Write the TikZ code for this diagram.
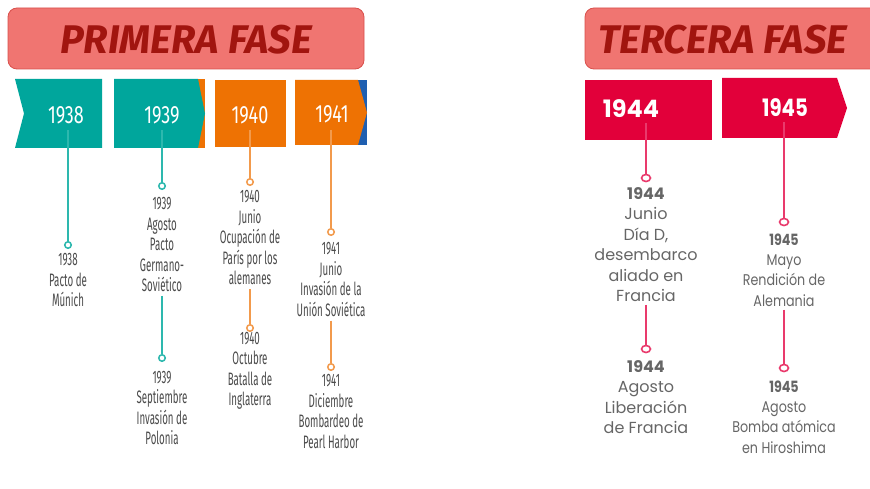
\documentclass[tikz,border=0pt]{standalone}
\usepackage{fontspec}
\setmainfont{Fira Sans}
\newfontfamily\condf[FakeStretch=0.54]{Fira Sans}
\newfontfamily\yearf[FakeStretch=0.72]{Fira Sans}
\newfontfamily\popf{Poppins}
\newfontfamily\popcond[FakeStretch=0.82]{Poppins}
\usetikzlibrary{shapes.geometric}
\definecolor{banfill}{HTML}{F07571}
\definecolor{bandraw}{HTML}{D9504C}
\definecolor{bantext}{HTML}{A1150F}
\definecolor{tealc}{HTML}{00A69C}
\definecolor{teall}{HTML}{2DB8AE}
\definecolor{orangec}{HTML}{EE7203}
\definecolor{orangel}{HTML}{F29A4C}
\definecolor{bluec}{HTML}{1F5FB0}
\definecolor{crimc}{HTML}{E2003A}
\definecolor{pinkl}{HTML}{E93A6C}
\definecolor{txtl}{HTML}{4A4A4A}
\definecolor{txtr}{HTML}{666666}
\tikzset{
  banner/.style={draw=bandraw, line width=0.8pt, fill=banfill, rounded corners=9pt},
  bantitle/.style={text=bantext, font=\fontsize{40}{40}\selectfont\bfseries\itshape, inner sep=0pt},
  yearL/.style={text=white, font=\yearf\fontsize{25}{25}\selectfont, inner sep=0pt},
  yearR/.style={text=white, font=\popf\fontsize{24}{24}\selectfont\bfseries, inner sep=0pt},
  yearRc/.style={text=white, font=\popcond\fontsize{24}{24}\selectfont\bfseries, inner sep=0pt},
  evL/.style={text=txtl, align=center, inner sep=0pt, font=\condf\fontsize{18}{20.5}\selectfont},
  evR/.style={text=txtr, align=center, inner sep=0pt, font=\popf\fontsize{16}{20.5}\selectfont},
  evRc/.style={text=txtr, align=center, inner sep=0pt, font=\popcond\fontsize{15.5}{20.3}\selectfont},
  dotL/.style={circle, draw=#1, line width=1.5pt, fill=white, inner sep=0pt, minimum size=6.5pt},
  dotR/.style={ellipse, draw=#1, line width=1.6pt, fill=white, inner sep=0pt, minimum width=9pt, minimum height=7pt},
  conn/.style={draw=#1, line width=1.6pt},
}
\begin{document}
\begin{tikzpicture}[x=1pt,y=-1pt]
\useasboundingbox (0,0) rectangle (870,489);
\fill[white] (0,0) rectangle (870,489);
\clip (0,0) rectangle (870,489);

% banners
\path[banner] (8,8) rectangle (364,69);
\node[bantitle] (ban1) at (186,40) {PRIMERA FASE};
\path[banner] (585,8) rectangle (890,69);
\node[bantitle, anchor=west] (ban3) at (598,40) {TERCERA FASE};

% year boxes, left
\fill[tealc] (15,79) -- (102,79) -- (102,148) -- (15,148) -- (24,113.5) -- cycle;
\fill[orangec] (198,79) rectangle (205,148);
\fill[tealc] (114,79) -- (198,79) -- (205,113.5) -- (198,148) -- (114,148) -- cycle;
\fill[orangec] (215,80) rectangle (286,147);
\fill[bluec] (358,80) rectangle (367,145);
\fill[orangec] (295,80) -- (358,80) -- (367,112.5) -- (358,145) -- (295,145) -- cycle;
% year boxes, right
\fill[crimc] (585,80) rectangle (712,140);
\fill[crimc] (722,78) -- (837,78) -- (847,108) -- (837,138) -- (722,138) -- cycle;

\node[yearL] (y38) at (66,115) {1938};
\node[yearL] (y39) at (162,115) {1939};
\node[yearL] (y40) at (250,115) {1940};
\node[yearL] (y41) at (332,114) {1941};
\node[yearR] (y44) at (631,109) {1944};
\node[yearRc] (y45) at (785,108) {1945};

% start points of the connectors
\coordinate (s38) at (68,130);
\coordinate (s39) at (162,130);
\coordinate (s40) at (250,130);
\coordinate (s41) at (331,130);
\coordinate (s44) at (646,123);
\coordinate (s45) at (784,122);

% dots
\node[dotL=teall] (c38) at (68,245) {};
\node[dotL=teall] (c39a) at (162,186) {};
\node[dotL=teall] (c39b) at (162,358) {};
\node[dotL=orangel] (c40a) at (250,182) {};
\node[dotL=orangel] (c40b) at (250,328) {};
\node[dotL=orangel] (c41a) at (331,232) {};
\node[dotL=orangel] (c41b) at (331,367) {};
\node[dotR=pinkl] (c44a) at (646,178) {};
\node[dotR=pinkl] (c44b) at (646,349) {};
\node[dotR=pinkl] (c45a) at (784,222) {};
\node[dotR=pinkl] (c45b) at (784,368) {};

% event texts
\node[evL] (t38) at (68,280) {1938\\Pacto de\\Múnich};
\node[evL] (t39a) at (162,244.5) {1939\\Agosto\\Pacto\\Germano-\\Soviético};
\node[evL] (t39b) at (162,408) {1939\\Septiembre\\Invasión de\\Polonia};
\node[evL] (t40a) at (250,237.5) {1940\\Junio\\Ocupación de\\París por los\\alemanes};
\node[evL] (t40b) at (250,371) {1940\\Octubre\\Batalla de\\Inglaterra};
\node[evL] (t41a) at (331,279.5) {1941\\Junio\\Invasión de la\\Unión Soviética};
\node[evL] (t41b) at (331,411.5) {1941\\Diciembre\\Bombardeo de\\Pearl Harbor};
\node[evR] (t44a) at (646,244.5) {\textbf{1944}\\Junio\\Día D,\\desembarco\\aliado en\\Francia};
\node[evR] (t44b) at (646,397) {\textbf{1944}\\Agosto\\Liberación\\de Francia};
\node[evRc] (t45a) at (784,270) {\textbf{1945}\\Mayo\\Rendición de\\Alemania};
\node[evRc] (t45b) at (784,417) {\textbf{1945}\\Agosto\\Bomba atómica\\en Hiroshima};

% connectors
\draw[conn=teall] (s38) -- (c38.north);
\draw[conn=teall] (s39) -- (c39a.north);
\draw[conn=teall, shorten <=4pt] (t39a.south) -- (c39b.north);
\draw[conn=orangel] (s40) -- (c40a.north);
\draw[conn=orangel, shorten <=4pt] (t40a.south) -- (c40b.north);
\draw[conn=orangel] (s41) -- (c41a.north);
\draw[conn=orangel, shorten <=4pt] (t41a.south) -- (c41b.north);
\draw[conn=pinkl] (s44) -- (c44a.north);
\draw[conn=pinkl, shorten <=3pt] (t44a.south) -- (c44b.north);
\draw[conn=pinkl] (s45) -- (c45a.north);
\draw[conn=pinkl, shorten <=3pt] (t45a.south) -- (c45b.north);
\end{tikzpicture}
\end{document}
